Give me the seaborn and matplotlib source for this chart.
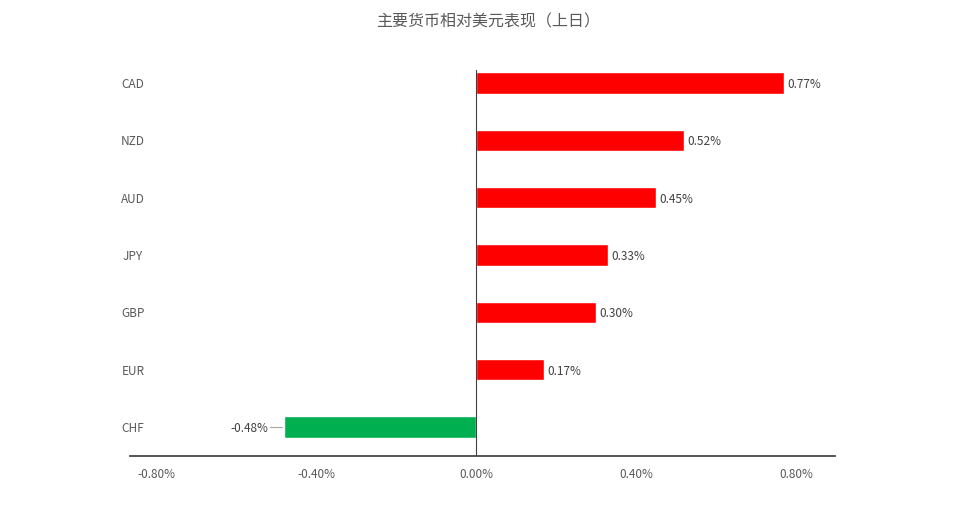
import matplotlib
matplotlib.use("Agg")
import matplotlib.pyplot as plt
import matplotlib.transforms as mt
import seaborn as sns
import pandas as pd

currencies = ["CAD", "NZD", "AUD", "JPY", "GBP", "EUR", "CHF"]
changes = [0.77, 0.52, 0.45, 0.33, 0.30, 0.17, -0.48]
xticks = [-0.8, -0.4, 0.0, 0.4, 0.8]
title = "主要货币相对美元表现（上日）"

sns.set_theme(style="white")
plt.rcParams['font.family'] = ['Noto Sans CJK SC', 'DejaVu Sans']

df = pd.DataFrame({"cur": currencies, "chg": changes})
df["sign"] = ["pos" if v >= 0 else "neg" for v in changes]

fig = plt.figure(figsize=(9.77, 5.26), dpi=100)
ax = fig.add_axes([130/977, 1-456/526, (835-130)/977, (456-54)/526])
sns.barplot(data=df, x="chg", y="cur", hue="sign", palette={"pos": "#FF0000", "neg": "#00B050"},
            orient="h", width=0.37, dodge=False, legend=False, ax=ax, saturation=1)
ax.set_xlim(-0.865, 0.8975)
ax.set_xticks(xticks)
ax.set_xticklabels([f"{t:.2f}%" for t in xticks], color="#595959", fontsize=8.5)
ax.tick_params(axis="x", length=0, pad=9)
ax.set_yticks(range(len(currencies)))
ax.set_yticklabels(currencies)
ax.tick_params(axis="y", colors="#595959", labelsize=8.5, length=0, pad=0)
off = mt.ScaledTranslation(0.03, 0, fig.dpi_scale_trans)
for lab in ax.get_yticklabels():
    lab.set_horizontalalignment("center")
    lab.set_transform(lab.get_transform() + off)
ax.set_xlabel(""); ax.set_ylabel("")
for s in ["top", "right", "left"]:
    ax.spines[s].set_visible(False)
ax.spines["bottom"].set_color("#404040")
ax.axvline(0, ymax=(456-70)/(456-54), color="#404040", lw=0.8)
for i, v in enumerate(changes):
    if v >= 0:
        ax.text(v + 0.008, i, f"{v:.2f}%", va="center_baseline", ha="left", fontsize=8.5, color="#404040")
    else:
        ax.plot([v - 0.005, v - 0.035], [i, i], color="#a6a6a6", lw=0.8)
        ax.text(v - 0.04, i, f"{v:.2f}%", va="center_baseline", ha="right", fontsize=8.5, color="#404040")
fig.text(0.5, 1-22/526, title, ha="center", va="center", fontsize=11.5, color="#595959")
fig.savefig("out.png", dpi=100)
